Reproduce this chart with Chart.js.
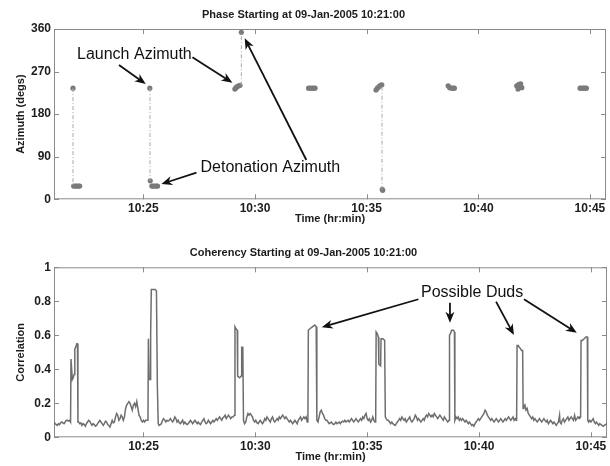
<!DOCTYPE html>
<html>
<head>
<meta charset="utf-8">
<script src="https://cdn.jsdelivr.net/npm/chart.js@4.4.1/dist/chart.umd.min.js"></script>
<style>
  html, body { margin: 0; padding: 0; background: #fff; }
  #wrap { position: relative; width: 610px; height: 466px; }
  canvas { position: absolute; left: 0; }
</style>
</head>
<body>
<div id="wrap">
  <canvas id="phaseChart" width="610" height="236" style="top:0;width:610px;height:236px"></canvas>
  <canvas id="cohChart" width="610" height="230" style="top:236px;width:610px;height:230px"></canvas>
</div>
<script>
// times are minutes past 10:00 on 09-Jan-2005
const timeTicks = [25, 30, 35, 40, 45];
const timeMin = 21;
const timeMax = 45.72;

// azimuth estimates (degrees)
const azTime = [21.85, 21.88, 21.95, 22.02, 22.09, 22.15,
  25.29, 25.31, 25.38, 25.45, 25.52, 25.59, 25.64,
  29.1, 29.15, 29.2, 29.27, 29.33, 29.39,
  32.4, 32.47, 32.55, 32.62, 32.69,
  35.42, 35.48, 35.55, 35.62, 35.68, 35.7, 35.72,
  38.65, 38.72, 38.8, 38.88, 38.93,
  41.72, 41.78, 41.82, 41.85, 41.9, 41.95,
  44.56, 44.63, 44.7, 44.77, 44.84];
const azDeg = [235, 28, 28, 28, 28, 28,
  235, 39, 28, 28, 28, 28, 28,
  233, 236, 238, 240, 241, 353,
  235, 235, 235, 235, 235,
  231, 235, 238, 241, 242, 21, 19,
  240, 236, 235, 235, 235,
  240, 233, 243, 238, 244, 236,
  235, 235, 235, 235, 235];
const azTicks = [0, 90, 180, 270, 360];

// launch -> detonation jumps
const jumpTime = [21.85, 25.3, 29.39, 35.69];
const jumpFrom = [235, 235, 241, 238];
const jumpTo = [28, 39, 353, 21];

// coherency [minute, correlation]
const coherency = [
  [21.00,0.09],[21.05,0.08],[21.1,0.075],[21.15,0.07],[21.2,0.08],[21.25,0.075],[21.3,0.085],[21.35,0.09],
  [21.4,0.085],[21.45,0.08],[21.5,0.09],[21.55,0.1],[21.6,0.1],[21.65,0.095],[21.7,0.1],[21.74,0.09],
  [21.76,0.46],[21.8,0.46],[21.82,0.34],[21.86,0.35],[21.9,0.37],[21.93,0.52],[21.97,0.53],[22.02,0.55],
  [22.05,0.55],[22.07,0.09],
  [22.1,0.09],[22.15,0.08],[22.2,0.085],[22.25,0.07],[22.3,0.08],[22.35,0.075],[22.4,0.065],[22.45,0.08],
  [22.5,0.09],[22.55,0.1],[22.6,0.095],[22.65,0.08],[22.7,0.07],[22.75,0.08],[22.8,0.075],[22.85,0.065],
  [22.9,0.07],[22.95,0.08],[23.0,0.09],[23.05,0.1],[23.1,0.09],[23.15,0.08],[23.2,0.07],[23.25,0.08],
  [23.3,0.095],[23.35,0.09],[23.4,0.075],[23.45,0.07],[23.5,0.06],[23.55,0.08],[23.6,0.1],[23.65,0.085],
  [23.7,0.09],[23.75,0.12],[23.8,0.14],[23.85,0.13],[23.9,0.1],[23.95,0.11],[24.0,0.13],[24.05,0.12],
  [24.1,0.1],[24.15,0.12],[24.2,0.17],[24.25,0.19],[24.3,0.2],[24.35,0.21],[24.4,0.2],[24.45,0.18],
  [24.5,0.16],[24.55,0.19],[24.6,0.2],[24.65,0.18],[24.7,0.21],[24.75,0.17],[24.8,0.13],[24.85,0.12],
  [24.9,0.1],[24.95,0.09],[25.0,0.1],[25.05,0.09],[25.1,0.1],[25.2,0.1],
  [25.22,0.58],[25.24,0.58],[25.25,0.34],[25.3,0.34],[25.32,0.6],[25.35,0.87],[25.45,0.87],[25.52,0.87],
  [25.58,0.86],[25.62,0.3],[25.66,0.08],
  [25.7,0.07],[25.75,0.075],[25.8,0.08],[25.85,0.1],[25.9,0.11],[25.95,0.1],[26.0,0.09],[26.05,0.1],
  [26.1,0.095],[26.15,0.1],[26.2,0.11],[26.25,0.1],[26.3,0.09],[26.35,0.1],[26.4,0.12],[26.45,0.11],
  [26.5,0.09],[26.55,0.1],[26.6,0.085],[26.65,0.08],[26.7,0.09],[26.75,0.1],[26.8,0.08],[26.85,0.09],
  [26.9,0.08],[26.95,0.075],[27.0,0.08],[27.05,0.09],[27.1,0.1],[27.15,0.09],[27.2,0.08],[27.25,0.09],
  [27.3,0.1],[27.35,0.09],[27.4,0.08],[27.45,0.09],[27.5,0.08],[27.55,0.075],[27.6,0.09],[27.65,0.1],
  [27.7,0.11],[27.75,0.09],[27.8,0.08],[27.85,0.085],[27.9,0.1],[27.95,0.09],[28.0,0.08],[28.05,0.09],
  [28.1,0.1],[28.15,0.09],[28.2,0.1],[28.25,0.11],[28.3,0.1],[28.35,0.11],[28.4,0.12],[28.45,0.11],
  [28.5,0.1],[28.55,0.115],[28.6,0.12],[28.65,0.13],[28.7,0.11],[28.75,0.12],[28.8,0.13],[28.85,0.12],
  [28.9,0.11],[28.95,0.12],[29.0,0.12],[29.07,0.13],
  [29.09,0.65],[29.13,0.64],[29.19,0.63],[29.21,0.36],[29.3,0.35],[29.37,0.36],[29.39,0.53],[29.44,0.53],
  [29.47,0.1],
  [29.52,0.08],[29.57,0.09],[29.62,0.12],[29.67,0.14],[29.72,0.13],[29.77,0.14],[29.82,0.13],[29.87,0.12],
  [29.92,0.1],[29.97,0.09],[30.02,0.1],[30.07,0.085],[30.12,0.08],[30.17,0.09],[30.22,0.1],[30.27,0.09],
  [30.32,0.08],[30.37,0.09],[30.42,0.11],[30.47,0.1],[30.52,0.12],[30.57,0.11],[30.62,0.1],[30.67,0.09],
  [30.72,0.11],[30.77,0.12],[30.82,0.1],[30.87,0.09],[30.92,0.1],[30.97,0.11],[31.02,0.1],[31.07,0.12],
  [31.12,0.11],[31.17,0.12],[31.22,0.13],[31.27,0.12],[31.32,0.11],[31.37,0.12],[31.42,0.11],[31.47,0.1],
  [31.52,0.09],[31.57,0.1],[31.62,0.09],[31.67,0.08],[31.72,0.09],[31.77,0.1],[31.82,0.09],[31.87,0.08],
  [31.92,0.1],[31.97,0.11],[32.02,0.12],[32.07,0.1],[32.12,0.11],[32.17,0.12],[32.22,0.11],[32.27,0.12],
  [32.32,0.09],[32.35,0.1],
  [32.37,0.63],[32.45,0.64],[32.55,0.65],[32.66,0.66],[32.72,0.65],[32.75,0.1],
  [32.8,0.09],[32.85,0.12],[32.9,0.15],[32.95,0.16],[33.0,0.14],[33.05,0.13],[33.1,0.11],[33.15,0.1],
  [33.2,0.1],[33.25,0.09],[33.3,0.08],[33.35,0.085],[33.4,0.09],[33.45,0.08],[33.5,0.075],[33.55,0.08],
  [33.6,0.09],[33.65,0.08],[33.7,0.085],[33.75,0.09],[33.8,0.08],[33.85,0.09],[33.9,0.095],[33.95,0.09],
  [34.0,0.1],[34.05,0.09],[34.1,0.095],[34.15,0.1],[34.2,0.09],[34.25,0.1],[34.3,0.11],[34.35,0.1],
  [34.4,0.09],[34.45,0.1],[34.5,0.11],[34.55,0.1],[34.6,0.09],[34.65,0.1],[34.7,0.11],[34.75,0.1],
  [34.8,0.12],[34.85,0.11],[34.9,0.13],[34.95,0.14],[35.0,0.11],[35.05,0.1],[35.1,0.11],[35.15,0.09],
  [35.2,0.1],[35.25,0.12],[35.3,0.1],[35.35,0.09],[35.38,0.1],
  [35.4,0.62],[35.45,0.61],[35.5,0.59],[35.52,0.43],[35.6,0.42],[35.62,0.58],[35.7,0.58],[35.78,0.57],
  [35.81,0.12],
  [35.85,0.11],[35.9,0.1],[35.95,0.1],[36.0,0.09],[36.05,0.08],[36.1,0.09],[36.15,0.08],[36.2,0.075],
  [36.25,0.07],[36.3,0.08],[36.35,0.09],[36.4,0.1],[36.45,0.11],[36.5,0.1],[36.55,0.12],[36.6,0.11],
  [36.65,0.1],[36.7,0.11],[36.75,0.09],[36.8,0.1],[36.85,0.11],[36.9,0.12],[36.95,0.1],[37.0,0.09],
  [37.05,0.1],[37.1,0.11],[37.15,0.13],[37.2,0.12],[37.25,0.1],[37.3,0.11],[37.35,0.1],[37.4,0.09],
  [37.45,0.1],[37.5,0.11],[37.55,0.1],[37.6,0.12],[37.65,0.13],[37.7,0.12],[37.75,0.14],[37.8,0.13],
  [37.85,0.12],[37.9,0.13],[37.95,0.12],[38.0,0.14],[38.05,0.13],[38.1,0.12],[38.15,0.11],[38.2,0.12],
  [38.25,0.13],[38.3,0.12],[38.35,0.11],[38.4,0.1],[38.45,0.12],[38.5,0.11],[38.55,0.1],[38.6,0.09],
  [38.66,0.1],
  [38.68,0.6],[38.72,0.61],[38.78,0.63],[38.86,0.63],[38.9,0.62],[38.92,0.1],
  [38.97,0.12],[39.02,0.11],[39.07,0.12],[39.12,0.1],[39.17,0.11],[39.22,0.1],[39.27,0.11],[39.32,0.1],
  [39.37,0.09],[39.42,0.1],[39.47,0.09],[39.52,0.08],[39.57,0.09],[39.62,0.08],[39.67,0.07],[39.72,0.075],
  [39.77,0.065],[39.82,0.08],[39.87,0.09],[39.92,0.1],[39.97,0.11],[40.02,0.1],[40.07,0.11],[40.12,0.12],
  [40.17,0.13],[40.22,0.14],[40.27,0.16],[40.32,0.15],[40.37,0.13],[40.42,0.12],[40.47,0.11],[40.52,0.1],
  [40.57,0.11],[40.62,0.1],[40.67,0.09],[40.72,0.1],[40.77,0.11],[40.82,0.1],[40.87,0.09],[40.92,0.1],
  [40.97,0.11],[41.02,0.1],[41.07,0.09],[41.12,0.1],[41.17,0.11],[41.22,0.1],[41.27,0.11],[41.32,0.12],
  [41.37,0.11],[41.42,0.1],[41.47,0.11],[41.52,0.12],[41.57,0.1],[41.62,0.11],[41.66,0.1],[41.68,0.11],
  [41.7,0.54],[41.75,0.54],[41.8,0.53],[41.86,0.52],[41.9,0.51],[41.95,0.51],[41.97,0.17],
  [42.0,0.18],[42.05,0.19],[42.1,0.16],[42.15,0.17],[42.2,0.14],[42.25,0.13],[42.3,0.12],[42.35,0.11],
  [42.4,0.12],[42.45,0.1],[42.5,0.11],[42.55,0.1],[42.6,0.09],[42.65,0.1],[42.7,0.11],[42.75,0.1],
  [42.8,0.09],[42.85,0.1],[42.9,0.11],[42.95,0.1],[43.0,0.09],[43.05,0.1],[43.1,0.08],[43.15,0.09],
  [43.2,0.1],[43.25,0.09],[43.3,0.08],[43.35,0.09],[43.4,0.08],[43.45,0.07],[43.5,0.08],[43.55,0.09],
  [43.6,0.13],[43.62,0.09],[43.67,0.08],[43.72,0.1],[43.77,0.11],[43.82,0.09],[43.87,0.1],[43.92,0.11],
  [43.97,0.12],[44.02,0.1],[44.07,0.11],[44.12,0.12],[44.17,0.11],[44.22,0.1],[44.27,0.13],[44.32,0.1],
  [44.37,0.11],[44.42,0.12],[44.47,0.11],[44.5,0.12],[44.54,0.12],
  [44.56,0.57],[44.62,0.57],[44.7,0.58],[44.78,0.59],[44.84,0.59],[44.86,0.1],
  [44.9,0.09],[44.95,0.1],[45.0,0.09],[45.05,0.1],[45.1,0.11],[45.15,0.09],[45.2,0.08],[45.25,0.09],
  [45.3,0.08],[45.35,0.07],[45.4,0.08],[45.45,0.075],[45.5,0.07],[45.55,0.065],[45.6,0.07],[45.65,0.075],
  [45.72,0.08]
];
const corrTicks = [0, 0.2, 0.4, 0.6, 0.8, 1];

const FONT = "'Liberation Sans', Arial, Helvetica, sans-serif";
Chart.defaults.font.family = FONT;
Chart.defaults.color = '#1c1c1c';

// axes box with inward tick marks on all four sides
const boxTicks = {
  id: 'boxTicks',
  beforeDatasetsDraw(chart) {
    const { ctx, chartArea: a, scales } = chart;
    const x = scales.x, y = scales.y;
    ctx.save();
    ctx.strokeStyle = '#8a8a8a';
    ctx.lineWidth = 1;
    ctx.strokeRect(a.left + 0.5, a.top + 0.5, a.right - a.left - 1, a.bottom - a.top - 1);
    ctx.beginPath();
    x.ticks.forEach(t => {
      const px = Math.round(x.getPixelForValue(t.value)) + 0.5;
      ctx.moveTo(px, a.bottom); ctx.lineTo(px, a.bottom - 5);
      ctx.moveTo(px, a.top); ctx.lineTo(px, a.top + 5);
    });
    y.ticks.forEach(t => {
      const py = Math.round(y.getPixelForValue(t.value)) + 0.5;
      ctx.moveTo(a.left, py); ctx.lineTo(a.left + 5, py);
      ctx.moveTo(a.right, py); ctx.lineTo(a.right - 5, py);
    });
    ctx.stroke();
    ctx.restore();
  }
};

function drawArrow(ctx, x1, y1, x2, y2) {
  const ang = Math.atan2(y2 - y1, x2 - x1);
  const c = Math.cos(ang), s = Math.sin(ang);
  const len = 11, half = 4.5;
  ctx.beginPath();
  ctx.moveTo(x1, y1);
  ctx.lineTo(x2 - c * len * 0.6, y2 - s * len * 0.6);
  ctx.stroke();
  ctx.beginPath();
  ctx.moveTo(x2, y2);
  ctx.lineTo(x2 - c * len + s * half, y2 - s * len - c * half);
  ctx.lineTo(x2 - c * len * 0.7, y2 - s * len * 0.7);
  ctx.lineTo(x2 - c * len - s * half, y2 - s * len + c * half);
  ctx.closePath();
  ctx.fill();
}

// callout text and arrows, given in data units
const callouts = {
  id: 'callouts',
  afterDatasetsDraw(chart, args, opts) {
    const { ctx, scales: { x, y } } = chart;
    ctx.save();
    ctx.fillStyle = '#111';
    ctx.strokeStyle = '#111';
    ctx.lineWidth = 1.8;
    (opts.labels || []).forEach(l => {
      ctx.font = l.size + 'px ' + FONT;
      ctx.textAlign = l.align;
      ctx.textBaseline = 'middle';
      ctx.fillText(l.text, x.getPixelForValue(l.at[0]), y.getPixelForValue(l.at[1]));
    });
    (opts.arrows || []).forEach(a => {
      drawArrow(ctx, x.getPixelForValue(a[0]), y.getPixelForValue(a[1]),
                     x.getPixelForValue(a[2]), y.getPixelForValue(a[3]));
    });
    ctx.restore();
  }
};

function timeAxis(height, titleBottom) {
  return {
    type: 'linear',
    min: timeMin,
    max: timeMax,
    grid: { display: false, drawTicks: false },
    border: { display: false },
    afterBuildTicks: s => { s.ticks = timeTicks.map(v => ({ value: v })); },
    afterFit: s => { s.height = height; },
    ticks: {
      autoSkip: false, maxRotation: 0, padding: 2,
      font: { size: 12, weight: 'bold' },
      callback: v => '10:' + v
    },
    title: {
      display: true, text: 'Time (hr:min)',
      font: { size: 11, weight: 'bold' },
      padding: { top: 0, bottom: titleBottom }
    }
  };
}

function valueAxis(min, max, ticks, label) {
  return {
    min: min,
    max: max,
    grid: { display: false, drawTicks: false },
    border: { display: false },
    afterBuildTicks: s => { s.ticks = ticks.map(v => ({ value: v })); },
    afterFit: s => { s.width = 54; },
    ticks: { padding: 3, font: { size: 12, weight: 'bold' }, callback: v => String(v) },
    title: {
      display: true, text: label,
      font: { size: 11, weight: 'bold' },
      padding: { top: 13.9, bottom: 0 }
    }
  };
}

const jumpSets = jumpTime.map((t, i) => ({
  type: 'line',
  data: [{ x: t, y: jumpFrom[i] }, { x: t, y: jumpTo[i] }],
  borderColor: '#a8a8a8',
  borderWidth: 1,
  borderDash: [4, 2, 1, 2],
  pointRadius: 0
}));

new Chart(document.getElementById('phaseChart'), {
  type: 'scatter',
  data: {
    datasets: jumpSets.concat([{
      data: azTime.map((t, i) => ({ x: t, y: azDeg[i] })),
      backgroundColor: '#7a7a7a',
      borderWidth: 0,
      pointRadius: 2.6
    }])
  },
  options: {
    responsive: false,
    animation: false,
    devicePixelRatio: 1,
    layout: { padding: { left: 0, right: 3, top: 0, bottom: 0 } },
    plugins: {
      legend: { display: false },
      tooltip: { enabled: false },
      title: {
        display: true,
        text: 'Phase Starting at 09-Jan-2005 10:21:00',
        font: { size: 11, weight: 'bold' },
        padding: { top: 8.4, bottom: 7.4 }
      },
      callouts: {
        labels: [
          { text: 'Launch Azimuth', at: [24.6, 305], align: 'center', size: 16 },
          { text: 'Detonation Azimuth', at: [27.56, 67.6], align: 'left', size: 16 }
        ],
        arrows: [
          [23.91, 283.9, 25.11, 243.7],
          [27.2, 300.2, 28.99, 246.5],
          [27.38, 56.2, 25.81, 32.3],
          [32.3, 83.1, 29.54, 340.4]
        ]
      }
    },
    scales: {
      x: timeAxis(36.7, 10.4),
      y: valueAxis(0, 360, azTicks, 'Azimuth (degs)')
    }
  },
  plugins: [boxTicks, callouts]
});

new Chart(document.getElementById('cohChart'), {
  type: 'line',
  data: {
    datasets: [{
      data: coherency.map(p => ({ x: p[0], y: p[1] })),
      borderColor: '#6e6e6e',
      borderWidth: 1.5,
      pointRadius: 0,
      tension: 0
    }]
  },
  options: {
    responsive: false,
    animation: false,
    devicePixelRatio: 1,
    layout: { padding: { left: 0, right: 3, top: 0, bottom: 0 } },
    plugins: {
      legend: { display: false },
      tooltip: { enabled: false },
      title: {
        display: true,
        text: 'Coherency Starting at 09-Jan-2005 10:21:00',
        font: { size: 11, weight: 'bold' },
        padding: { top: 10.4, bottom: 7.7 }
      },
      callouts: {
        labels: [
          { text: 'Possible Duds', at: [39.69, 0.851], align: 'center', size: 16 }
        ],
        arrows: [
          [37.29, 0.812, 32.97, 0.647],
          [38.7, 0.792, 38.7, 0.674],
          [40.76, 0.798, 41.56, 0.602],
          [42.01, 0.812, 44.37, 0.615]
        ]
      }
    },
    scales: {
      x: timeAxis(28.7, 2.4),
      y: valueAxis(0, 1, corrTicks, 'Correlation')
    }
  },
  plugins: [boxTicks, callouts]
});
</script>
</body>
</html>
